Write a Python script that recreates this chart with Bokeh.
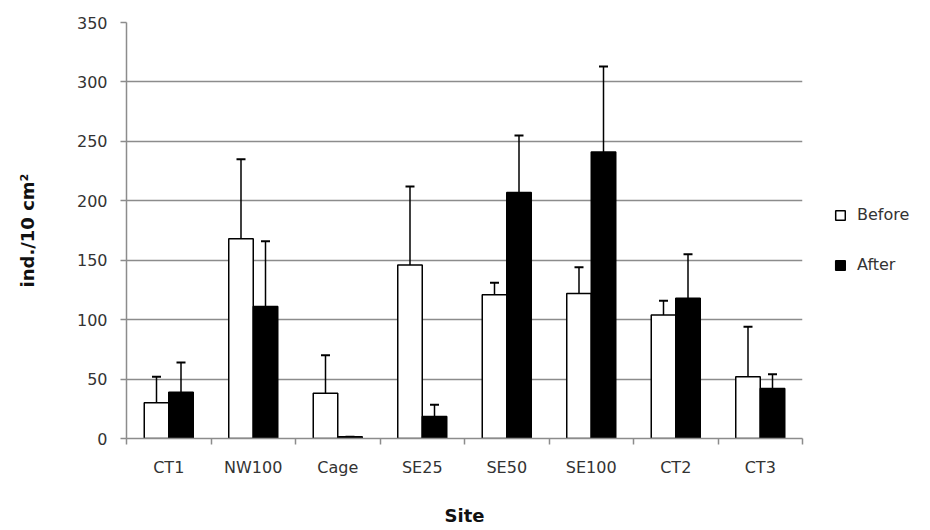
from bokeh.plotting import figure
from bokeh.models import (ColumnDataSource, FixedTicker, Whisker, TeeHead, Legend, LegendItem, Range1d)
from bokeh.embed import file_html
from bokeh.resources import INLINE

sites = ["CT1", "NW100", "Cage", "SE25", "SE50", "SE100", "CT2", "CT3"]
before = [30, 168, 38, 146, 121, 122, 104, 52]
before_err = [22, 67, 32, 66, 10, 22, 12, 42]
after = [39, 111, 1.5, 18.5, 207, 241, 118, 42]
after_err = [25, 55, 0, 10, 48, 72, 37, 12]

n = len(sites)
centers = [i + 0.5 for i in range(n)]
bw = 0.29
off = 0.145

src_b = ColumnDataSource(dict(x=[c - off for c in centers], top=before,
                              up=[v + e for v, e in zip(before, before_err)]))
src_a = ColumnDataSource(dict(x=[c + off for c in centers], top=after,
                              up=[v + e for v, e in zip(after, after_err)]))

p = figure(output_backend="svg", toolbar_location=None,
           x_range=Range1d(0, n), y_range=Range1d(0, 350),
           frame_width=676, frame_height=416,
           min_border_left=126, min_border_top=22, min_border_bottom=90, min_border_right=10)
p.outline_line_color = None
p.background_fill_color = "white"

grid_col = "#8c8c8c"
p.xgrid.grid_line_color = None
p.ygrid.grid_line_color = grid_col
p.ygrid.grid_line_width = 1.5
p.yaxis.ticker = FixedTicker(ticks=list(range(0, 351, 50)))

# x axis: labels at centers, tick marks at boundaries
p.xaxis.ticker = FixedTicker(ticks=centers, minor_ticks=list(range(0, n + 1)))
p.xaxis.major_label_overrides = {c: s for c, s in zip(centers, sites)}
p.xaxis.major_tick_out = 0
p.xaxis.major_tick_in = 0
p.xaxis.minor_tick_out = 6
p.xaxis.minor_tick_in = 0
p.xaxis.minor_tick_line_color = grid_col
p.xaxis.minor_tick_line_width = 1.5
p.xaxis.major_label_standoff = 13
p.xaxis.axis_label = "Site"
p.xaxis.axis_label_standoff = 25

p.yaxis.major_tick_out = 6
p.yaxis.major_tick_in = 0
p.yaxis.minor_tick_line_color = None
p.yaxis.major_label_standoff = 13
p.yaxis.axis_label = "ind./10 cm²"
p.yaxis.axis_label_standoff = 36

for ax in (p.xaxis, p.yaxis):
    ax.axis_line_color = grid_col
    ax.axis_line_width = 1.5
    ax.major_tick_line_color = grid_col
    ax.major_tick_line_width = 1.5
    ax.major_label_text_font = "DejaVu Sans"
    ax.major_label_text_font_size = "16px"
    ax.major_label_text_color = "#333333"
    ax.axis_label_text_font = "DejaVu Sans"
    ax.axis_label_text_font_size = "18px"
    ax.axis_label_text_font_style = "bold"
    ax.axis_label_text_color = "#111111"

rb = p.vbar(x="x", top="top", width=bw, bottom=0, source=src_b,
            fill_color="white", line_color="black", line_width=1.5)
ra = p.vbar(x="x", top="top", width=bw, bottom=0, source=src_a,
            fill_color="black", line_color="black", line_width=1.5)

for src in (src_b, src_a):
    w = Whisker(base="x", lower="top", upper="up", source=src, dimension="height",
                line_color="black", line_width=1.5,
                upper_head=TeeHead(size=9, line_color="black", line_width=2),
                lower_head=None)
    p.add_layout(w)

legend = Legend(items=[LegendItem(label="Before", renderers=[rb]),
                       LegendItem(label="After", renderers=[ra])],
                location=(32, 164), orientation="vertical")
legend.glyph_width = 12
legend.glyph_height = 12
legend.label_height = 19
legend.spacing = 31
legend.label_standoff = 11
legend.label_text_font = "DejaVu Sans"
legend.label_text_font_size = "16px"
legend.label_text_color = "#333333"
legend.border_line_color = None
legend.background_fill_alpha = 0
legend.margin = 0
legend.padding = 10
p.add_layout(legend, "right")

open("out.html", "w").write(file_html(p, INLINE))
